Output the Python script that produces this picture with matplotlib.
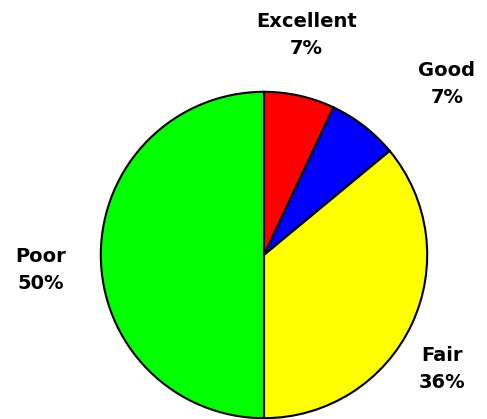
import matplotlib.pyplot as plt

labels = ["Excellent", "Good", "Fair", "Poor"]
shares = [7, 7, 36, 50]
colors = ["#ff0000", "#0000ff", "#ffff00", "#00ff00"]

# label anchor points, in units of the pie radius
label_pos = [(0.26, 1.35), (1.12, 1.05), (1.09, -0.70), (-1.37, -0.09)]

W, H = 487, 419
fig = plt.figure(figsize=(W / 100, H / 100), dpi=100)
cx, cy, r = 264, 255, 164
ax = fig.add_axes([(cx - r) / W, (H - cy - r) / H, 2 * r / W, 2 * r / H])

ax.pie(shares, colors=colors, startangle=90, counterclock=False,
       wedgeprops=dict(edgecolor="black", linewidth=1.5))
ax.set_xlim(-1.005, 1.005)
ax.set_ylim(-1.005, 1.005)

for name, val, (x, y) in zip(labels, shares, label_pos):
    ax.text(x, y, f"{name}\n{val}%", ha="center", va="center",
            fontsize=14, fontweight="bold", family="DejaVu Sans",
            linespacing=1.55, clip_on=False)

fig.savefig("out.png", dpi=100)
